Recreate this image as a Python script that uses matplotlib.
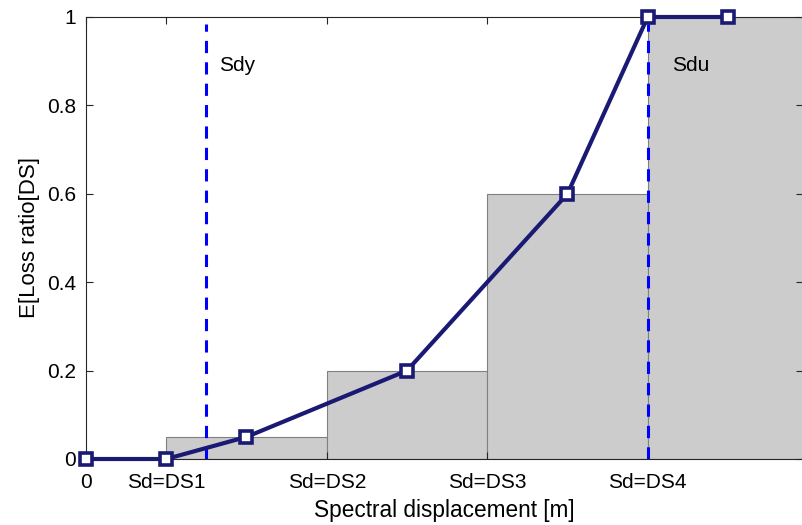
import matplotlib
matplotlib.use("Agg")
import matplotlib.pyplot as plt

plt.rcParams['font.family'] = ['Liberation Sans', 'DejaVu Sans']

# Data
bar_left = [1, 3, 5, 7]
bar_width = [2, 2, 2, 2]
bar_height = [0.05, 0.2, 0.6, 1.0]
line_x = [0, 1, 2, 4, 6, 7, 8]
line_y = [0, 0, 0.05, 0.2, 0.6, 1.0, 1.0]
sdy_x = 1.5
sdu_x = 7
xtick_pos = [0, 1, 3, 5, 7]
xtick_labels = ['0', 'Sd=DS1', 'Sd=DS2', 'Sd=DS3', 'Sd=DS4']
ytick_pos = [0, 0.2, 0.4, 0.6, 0.8, 1.0]
ytick_labels = ['0', '0.2', '0.4', '0.6', '0.8', '1']

fig = plt.figure(figsize=(8.02, 5.25), dpi=100)
W, H = 802, 525
ax = fig.add_axes([86 / W, 1 - 459 / H, (803 - 86) / W, (459 - 17) / H])

ax.bar(bar_left, bar_height, width=bar_width, align='edge',
       color='#cccccc', edgecolor='#808080', linewidth=0.8, zorder=1)
ax.vlines([sdy_x, sdu_x], 0, 0.985, colors='#0000ff', linestyles=(0, (4, 3)),
          linewidth=2.2, zorder=2)
ax.plot(line_x, line_y, color='#1a1a75', linewidth=3, marker='s',
        markersize=8.5, markerfacecolor='white', markeredgecolor='#1a1a75',
        markeredgewidth=2.6, zorder=3, clip_on=False)

ax.text(1.66, 0.89, 'Sdy', fontsize=15, va='center', ha='left')
ax.text(7.3, 0.89, 'Sdu', fontsize=15, va='center', ha='left')

ax.set_xlim(0, 8.935)
ax.set_ylim(0, 1)
ax.set_xticks(xtick_pos)
ax.set_xticklabels(xtick_labels, fontsize=15)
ax.set_yticks(ytick_pos)
ax.set_yticklabels(ytick_labels, fontsize=15)
ax.tick_params(direction='in', top=True, right=True, length=5, width=0.8,
               color='#262626')
ax.tick_params(axis='x', pad=10)
ax.tick_params(axis='y', pad=7)
for s in ax.spines.values():
    s.set_linewidth(0.8)
    s.set_color('#262626')
ax.set_xlabel('Spectral displacement [m]', fontsize=16.3, labelpad=5)
ax.set_ylabel('E[Loss ratio[DS]', fontsize=16, labelpad=5)

fig.savefig('out.png', dpi=100)
